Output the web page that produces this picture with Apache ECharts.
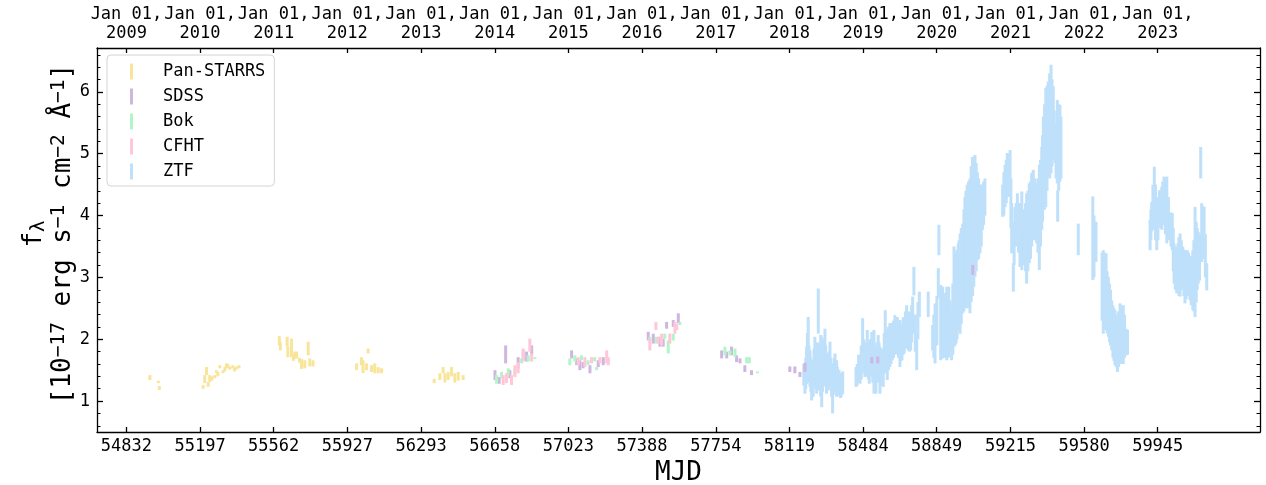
<!DOCTYPE html>
<html><head><meta charset="utf-8">
<script src="https://cdn.jsdelivr.net/npm/echarts@6/dist/echarts.min.js"></script>
<style>html,body{margin:0;padding:0;background:#fff}#c{width:1266px;height:485px}</style>
</head><body><div id="c"></div>
<script>
const FONT = 'DejaVu Sans Mono';
const xTicks = [54832,55197,55562,55927,56293,56658,57023,57388,57754,58119,58484,58849,59215,59580,59945];
const yearLabels = ['2009','2010','2011','2012','2013','2014','2015','2016','2017','2018','2019','2020','2021','2022','2023'];
const yTicks = [1,2,3,4,5,6];
const yMinor = [0.6,0.8,1.2,1.4,1.6,1.8,2.2,2.4,2.6,2.8,3.2,3.4,3.6,3.8,4.2,4.4,4.6,4.8,5.2,5.4,5.6,5.8,6.2,6.4,6.6];
const seriesNames = ['Pan-STARRS','SDSS','Bok','CFHT','ZTF'];
const seriesColors = ['#f8e59a','#cfb6e0','#b2f5c9','#ffc7d7','#bee0fa'];

// [MJD, lower, upper] of each error bar
const panstarrs = [
 [54948,1.34,1.42],[54990,1.29,1.33],[54995,1.18,1.24],
 [55212,1.20,1.26],[55220,1.29,1.42],[55229,1.42,1.55],[55237,1.23,1.31],[55245,1.31,1.42],[55255,1.33,1.40],
 [55270,1.37,1.42],[55278,1.45,1.50],[55285,1.40,1.47],[55295,1.53,1.58],[55311,1.45,1.50],[55320,1.48,1.55],
 [55328,1.53,1.61],[55335,1.55,1.60],[55344,1.51,1.56],[55359,1.53,1.58],[55368,1.48,1.54],[55377,1.51,1.56],[55390,1.53,1.58],
 [55590,1.90,2.05],[55595,1.82,1.95],[55629,1.88,2.04],[55632,1.71,1.88],[55650,1.71,2.01],[55660,1.65,1.75],
 [55667,1.69,1.80],[55675,1.69,1.80],[55690,1.62,1.70],[55700,1.52,1.68],[55716,1.53,1.66],[55733,1.74,1.96],
 [55741,1.56,1.69],[55757,1.56,1.66],
 [55973,1.50,1.61],[55997,1.58,1.71],[56005,1.45,1.66],[56022,1.50,1.61],[56030,1.77,1.85],[56047,1.47,1.58],
 [56063,1.45,1.61],[56080,1.45,1.55],[56097,1.45,1.53],
 [56358,1.29,1.36],[56386,1.34,1.45],[56402,1.45,1.55],[56411,1.30,1.45],[56427,1.34,1.47],[56444,1.40,1.55],
 [56460,1.30,1.45],[56477,1.33,1.47],[56501,1.34,1.42]
];
const sdss = [
 [56659,1.34,1.50],[56680,1.28,1.39],[56712,1.61,1.90],[56733,1.37,1.50],[56774,1.53,1.71],[56799,1.66,1.82],[56816,1.64,1.80],[56841,1.74,1.90],
 [57039,1.69,1.82],[57064,1.58,1.69],[57080,1.50,1.66],[57096,1.53,1.63],[57130,1.45,1.58],[57171,1.55,1.66],[57196,1.58,1.71],
 [57419,1.98,2.12],[57444,1.93,2.09],[57477,1.88,2.04],[57493,1.88,2.01],[57510,2.17,2.28],[57543,2.20,2.31],[57568,2.26,2.42],
 [57783,1.69,1.82],[57808,1.69,1.80],[57832,1.74,1.88],[57857,1.63,1.74],[57874,1.61,1.69],[57898,1.47,1.58],[57931,1.42,1.50],
 [58121,1.47,1.56],[58146,1.45,1.56],[58171,1.39,1.47],[58196,1.47,1.62],
 [58527,1.61,1.71],[58557,1.61,1.72],[59028,3.04,3.20]
];
const bok = [
 [56667,1.28,1.42],[56692,1.36,1.47],[56725,1.42,1.53],[56758,1.42,1.53],[56791,1.61,1.69],[56824,1.64,1.74],[56857,1.68,1.71],
 [57030,1.58,1.69],[57055,1.64,1.74],[57088,1.66,1.74],[57121,1.58,1.66],[57154,1.64,1.71],[57163,1.50,1.55],
 [57427,1.98,2.04],[57460,1.93,2.04],[57501,2.01,2.09],[57518,1.77,1.98],[57543,1.98,2.09],[57576,2.23,2.28],
 [57799,1.74,1.88],[57824,1.74,1.82],[57849,1.71,1.85],[57907,1.61,1.71],[57920,1.61,1.71],[57960,1.45,1.48]
];
const cfht = [
 [56700,1.26,1.42],[56716,1.29,1.45],[56741,1.26,1.42],[56758,1.39,1.58],[56774,1.45,1.63],[56799,1.64,1.85],[56832,1.80,2.01],[56841,1.64,1.77],
 [57072,1.58,1.71],[57105,1.55,1.71],[57138,1.61,1.71],[57179,1.61,1.71],[57213,1.61,1.82],[57221,1.58,1.71],
 [57427,1.82,2.01],[57457,2.15,2.28],[57468,1.93,2.04],[57485,1.90,2.09],[57526,1.93,2.09],[57551,2.09,2.28],[57560,2.15,2.25]
];
const ztf2018 = [
 [58190,1.25,1.60],[58196,1.12,1.55],[58200,1.20,1.70],[58204,1.28,1.88],[58208,1.35,2.10],[58212,1.45,2.36],[58216,1.30,1.90],
 [58221,1.23,1.82],[58225,1.15,1.70],[58229,1.01,1.66],[58233,1.10,1.55],[58237,1.07,1.45],[58241,1.25,1.85],[58245,1.39,2.04],
 [58250,1.20,1.80],[58254,1.12,1.77],[58258,1.30,1.95],[58262,2.09,2.82],[58266,1.17,1.93],[58270,1.20,1.85],[58274,1.07,2.07],
 [58279,0.90,2.04],[58283,1.15,1.85],[58287,1.23,1.88],[58291,1.30,2.00],[58295,1.39,2.17],[58299,1.25,1.90],[58303,1.12,1.77],
 [58307,1.20,1.75],[58311,1.17,1.66],[58315,1.25,1.80],[58320,1.36,1.96],[58324,1.20,1.70],[58328,1.07,1.50],[58333,0.80,1.61],
 [58337,1.10,1.60],[58341,1.20,1.70],[58345,1.39,1.77],[58349,1.15,1.65],[58353,1.07,1.66],[58357,1.10,1.55],[58361,1.12,1.50],
 [58365,1.10,1.50],[58369,1.07,1.45],[58373,1.05,1.45],[58378,1.09,1.45],[58383,1.12,1.48]
];
const ztf2019 = [
 [58449,1.23,1.55],[58455,1.25,1.60],[58462,1.30,1.75],[58469,1.28,1.66],[58475,1.35,1.90],[58482,1.77,2.34],[58488,1.45,2.00],
 [58493,1.39,1.88],[58499,1.40,1.95],[58505,1.50,2.15],[58510,1.35,1.95],[58515,1.28,1.88],[58521,1.40,2.00],[58527,1.45,2.12],
 [58532,1.30,2.05],[58538,1.12,2.15],[58543,1.25,1.90],[58548,1.12,1.82],[58553,1.30,1.95],[58559,1.45,2.07],[58563,1.30,1.95],
 [58568,1.12,1.88],[58575,1.25,1.85],[58584,1.23,1.77],[58589,1.45,2.10],[58594,1.77,2.47],[58599,1.45,2.15],[58604,1.34,2.04],
 [58610,1.50,2.20],[58617,1.55,2.26],[58623,1.60,2.25],[58629,1.66,2.26],[58635,1.70,2.30],[58642,1.77,2.39],[58648,1.75,2.35],
 [58654,1.82,2.36],[58660,1.70,2.30],[58667,1.55,2.31],[58672,1.65,2.25],[58677,1.66,2.15],[58683,1.75,2.35],[58688,1.77,2.36],
 [58694,1.85,2.45],[58700,1.98,2.55],[58705,1.85,2.40],[58709,1.82,2.20],[58714,1.80,2.45],[58720,1.82,2.42],[58725,1.95,2.55],
 [58730,2.09,2.69],[58736,2.71,3.17],[58743,1.80,2.40],[58750,1.50,2.09],[58756,2.00,2.60],[58763,2.36,2.77]
];
const ztf2020 = [
 [58807,2.36,2.77],[58829,1.82,2.23],[58835,1.70,2.40],[58841,1.61,2.58],[58850,1.90,2.70],[58857,2.66,3.15],[58860,3.36,3.85],
 [58869,1.66,2.88],[58874,1.70,2.80],[58879,1.69,2.85],[58883,1.75,2.70],[58887,1.77,2.63],[58893,1.70,2.75],[58899,1.66,2.85],
 [58904,1.70,2.80],[58909,1.71,2.85],[58915,2.09,2.63],[58919,1.80,2.55],[58923,1.66,2.42],[58929,1.75,2.90],[58935,1.88,3.50],
 [58940,1.90,3.40],[58945,1.93,3.39],[58950,2.00,3.45],[58956,2.20,3.55],[58960,2.15,3.60],[58965,2.09,3.71],[58971,2.25,3.80],
 [58978,2.42,3.87],[58984,2.45,4.10],[58989,2.52,4.30],[58994,2.50,4.40],[59000,2.58,4.50],[59007,2.50,4.55],[59014,2.42,4.60],
 [59020,2.60,4.80],[59027,2.70,4.95],[59033,2.85,4.95],[59039,3.01,4.98],[59045,3.10,4.85],[59051,3.28,4.70],[59057,3.30,4.60],
 [59064,3.39,4.50],[59070,3.50,4.50],[59076,3.77,4.50],[59082,3.85,4.55],[59088,4.00,4.60]
];
const ztf2021 = [
 [59176,3.98,4.50],[59182,4.00,4.70],[59188,4.14,4.82],[59194,4.20,4.90],[59199,4.31,5.01],[59206,4.30,5.00],[59213,4.41,5.06],
 [59217,3.80,4.60],[59221,3.39,4.20],[59229,2.77,3.23],[59233,3.20,3.90],[59237,3.50,4.14],[59243,3.50,4.20],[59249,3.66,4.36],
 [59255,3.40,4.20],[59262,3.17,3.98],[59266,3.20,4.20],[59271,3.12,4.39],[59277,3.20,4.10],[59282,3.23,3.77],[59289,3.10,4.20],
 [59295,2.90,4.36],[59301,3.10,4.40],[59308,3.23,4.52],[59314,3.30,4.55],[59320,3.50,4.68],[59324,3.60,4.70],[59328,3.87,4.74],
 [59336,3.60,4.60],[59345,3.55,4.52],[59351,3.40,4.60],[59358,3.12,4.82],[59364,3.50,4.90],[59370,3.77,5.11],[59374,3.90,5.30],
 [59378,4.09,5.60],[59384,4.10,5.80],[59390,4.14,6.06],[59396,4.40,6.10],[59402,4.63,6.17],[59409,4.60,6.30],[59416,4.68,6.44],
 [59421,4.80,6.20],[59427,5.06,6.09],[59432,4.90,5.70],[59436,4.85,5.22],[59441,4.60,5.50],[59447,4.52,5.87],[59449,3.90,4.41],
 [59454,4.40,5.80],[59460,4.55,5.79],[59465,4.60,5.60]
];
const ztf2022 = [
 [59551,3.36,3.87],[59623,2.96,4.31],[59629,3.00,4.00],[59639,3.25,3.90],[59669,2.30,3.40],[59675,2.09,3.44],[59682,2.15,3.40],
 [59689,2.20,3.39],[59694,2.10,3.10],[59700,2.04,3.01],[59706,1.95,2.90],[59711,1.90,2.80],[59717,1.82,2.63],[59723,1.70,2.55],
 [59728,1.65,2.50],[59733,1.58,2.47],[59739,1.55,2.40],[59745,1.47,2.36],[59751,1.55,2.45],[59758,1.61,2.58],[59764,1.60,2.55],
 [59769,1.60,2.50],[59774,1.60,2.55],[59780,1.70,2.40],[59788,1.74,2.17],[59795,1.75,2.15]
];
const ztf2023 = [
 [59907,3.44,3.93],[59911,3.60,4.10],[59915,3.74,4.22],[59921,3.80,4.50],[59928,3.77,4.79],[59934,3.60,4.50],[59940,3.44,4.25],
 [59946,3.60,4.30],[59953,3.87,4.41],[59959,3.80,4.40],[59965,3.77,4.47],[59970,3.85,4.55],[59976,3.93,4.63],[59983,3.70,4.60],
 [59990,3.55,4.63],[59998,3.60,4.30],[60006,3.66,4.04],[60011,3.50,4.05],[60017,3.44,4.04],[60022,3.10,3.80],[60026,2.90,3.55],
 [60032,2.80,3.50],[60039,2.74,3.44],[60045,2.75,3.55],[60050,2.70,3.65],[60056,2.69,3.71],[60062,2.80,3.60],[60069,2.90,3.50],
 [60075,2.70,3.45],[60080,2.58,3.44],[60086,2.65,3.40],[60092,2.80,3.44],[60098,2.70,3.40],[60105,2.63,3.28],[60111,2.55,3.35],
 [60119,2.47,3.44],[60124,2.45,3.60],[60130,2.36,4.14],[60136,2.60,3.90],[60141,2.80,3.80],[60146,2.90,3.74],[60152,2.95,3.70],
 [60158,4.60,5.11],[60163,3.25,4.20],[60169,3.30,4.15],[60175,3.33,4.14],[60181,3.00,3.70],[60188,2.79,3.23]
];
const ztf = [].concat(ztf2018, ztf2019, ztf2020, ztf2021, ztf2022, ztf2023);
const seriesData = [panstarrs, sdss, bok, cfht, ztf];
const seriesZ = [3,4,5,6,2];

const X_MIN = 54686, X_MAX = 60452, Y_MIN = 0.5, Y_MAX = 6.71;

function makeSeries(i) {
  const color = seriesColors[i];
  return {
    type: 'custom', name: seriesNames[i], data: seriesData[i],
    xAxisIndex: 0, yAxisIndex: 0, z: seriesZ[i], clip: true,
    itemStyle: { color: color },
    encode: { x: 0, y: [1, 2] },
    renderItem: function (params, api) {
      const t = api.coord([api.value(0), api.value(2)]);
      const b = api.coord([api.value(0), api.value(1)]);
      return { type: 'rect',
        shape: { x: t[0] - 1.5, y: t[1], width: 3, height: Math.max(b[1] - t[1], 1.5) },
        style: { fill: color } };
    }
  };
}

const axisLineStyle = { color: '#000', width: 1.3 };
const chart = echarts.init(document.getElementById('c'), null, { renderer: 'canvas' });
chart.setOption({
  animation: false,
  backgroundColor: '#fff',
  grid: { left: 97, top: 48, width: 1163, height: 384, containLabel: false, outerBoundsMode: 'none' },
  xAxis: [
    { type: 'value', position: 'bottom', min: X_MIN, max: X_MAX,
      axisLine: { show: true, onZero: false, lineStyle: axisLineStyle },
      axisTick: { show: true, inside: true, length: 5, customValues: xTicks, lineStyle: axisLineStyle },
      axisLabel: { customValues: xTicks, fontFamily: FONT, fontSize: 17, color: '#000', margin: 6,
        formatter: function (v) { return String(v); } },
      splitLine: { show: false },
      name: 'MJD', nameLocation: 'middle', nameGap: 27,
      nameTextStyle: { fontFamily: FONT, fontSize: 26, color: '#000' } },
    { type: 'value', position: 'top', min: X_MIN, max: X_MAX,
      axisLine: { show: true, onZero: false, lineStyle: axisLineStyle },
      axisTick: { show: true, inside: true, length: 5, customValues: xTicks, lineStyle: axisLineStyle },
      axisLabel: { customValues: xTicks, fontFamily: FONT, fontSize: 17, color: '#000', margin: 5, lineHeight: 19,
        formatter: function (v) { const i = xTicks.indexOf(v); return 'Jan 01,\n' + yearLabels[i]; } },
      splitLine: { show: false } }
  ],
  yAxis: [
    { type: 'value', position: 'left', min: Y_MIN, max: Y_MAX,
      axisLine: { show: true, onZero: false, lineStyle: axisLineStyle },
      axisTick: { show: true, inside: true, length: 6, customValues: yTicks, lineStyle: axisLineStyle },
      axisLabel: { customValues: yTicks, fontFamily: FONT, fontSize: 17, color: '#000', margin: 7 },
      splitLine: { show: false } },
    { type: 'value', position: 'right', min: Y_MIN, max: Y_MAX,
      axisLine: { show: true, onZero: false, lineStyle: axisLineStyle },
      axisTick: { show: true, inside: true, length: 6, customValues: yTicks, lineStyle: axisLineStyle },
      axisLabel: { show: false }, splitLine: { show: false } },
    { type: 'value', position: 'left', min: Y_MIN, max: Y_MAX,
      axisLine: { show: false },
      axisTick: { show: true, inside: true, length: 3.5, customValues: yMinor, lineStyle: { color: '#000', width: 1 } },
      axisLabel: { show: false }, splitLine: { show: false } },
    { type: 'value', position: 'right', min: Y_MIN, max: Y_MAX,
      axisLine: { show: false },
      axisTick: { show: true, inside: true, length: 3.5, customValues: yMinor, lineStyle: { color: '#000', width: 1 } },
      axisLabel: { show: false }, splitLine: { show: false } }
  ],
  legend: {
    orient: 'vertical', left: 107, top: 55, padding: [8, 9, 6, 23],
    itemWidth: 3, itemHeight: 16, itemGap: 8, icon: 'rect',
    borderColor: '#d4d4d4', borderWidth: 1, borderRadius: 4, backgroundColor: '#fff',
    textStyle: { fontFamily: FONT, fontSize: 17, color: '#000', lineHeight: 15, padding: [0, 0, 0, 25] },
    data: seriesNames, selectedMode: false
  },
  graphic: [{
    type: 'text', x: 49, y: 234, rotation: Math.PI / 2, z: 10,
    style: {
      text: '{m|f}{sub|λ}\n{m|[10}{sup|−17}{m| erg s}{sup|−1}{m| cm}{sup|−2}{m| Å}{sup|−1}{m|]}',
      align: 'center', verticalAlign: 'middle', fill: '#000',
      rich: {
        m: { fontFamily: FONT, fontSize: 26, lineHeight: 29, fill: '#000' },
        sub: { fontFamily: FONT, fontSize: 19, lineHeight: 16, verticalAlign: 'bottom', fill: '#000' },
        sup: { fontFamily: FONT, fontSize: 19.5, lineHeight: 13, verticalAlign: 'top', fill: '#000' }
      }
    }
  }],
  series: [0, 1, 2, 3, 4].map(makeSeries)
});
</script>
</body></html>
